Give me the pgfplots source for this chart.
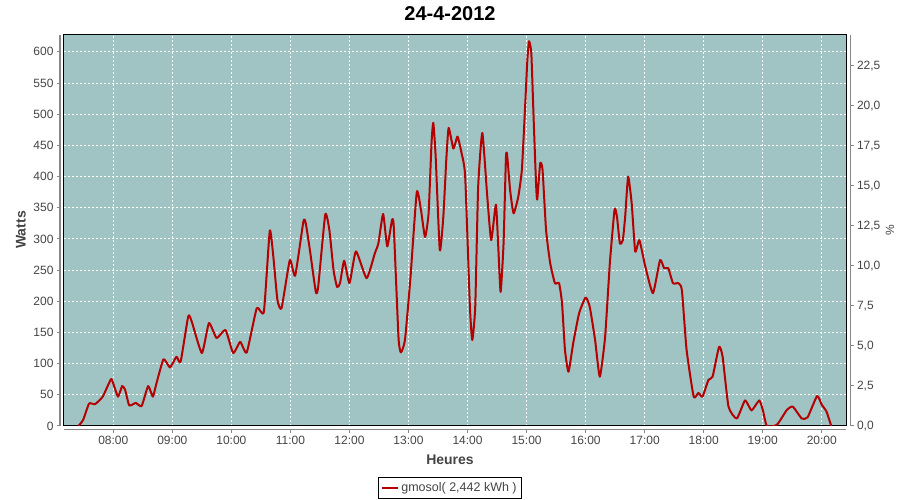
\documentclass[border=0pt]{standalone}
\usepackage{fontspec}
\setmainfont{Liberation Sans}
\usepackage{pgfplots}
\pgfplotsset{compat=1.18}
\definecolor{bg}{RGB}{159,196,195}
\definecolor{ln}{RGB}{180,0,0}
\definecolor{tk}{RGB}{68,68,68}
\definecolor{ax}{RGB}{136,136,136}
\begin{document}
\begin{tikzpicture}
\path[use as bounding box] (0pt,0pt) rectangle (900pt,500pt);
\pgfplotsset{every axis/.append style={scale only axis, font=\fontsize{12}{14}\selectfont, /pgf/number format/assume math mode=true, ticklabel style={text=tk}}}
% main plot area
\begin{axis}[at={(64pt,74pt)}, anchor=south west, width=782pt, height=391pt,
  xmin=7.165, xmax=20.41, ymin=0, ymax=627,
  axis background/.style={fill=bg},
  xtick={8,9,...,20}, ytick={0,50,...,600},
  xticklabels={}, yticklabels={},
  major tick length=0pt,
  grid=major, grid style={white, dash pattern=on 2pt off 2pt, line width=0.9pt},
  axis line style={black, line width=1pt},
  legend style={at={(0.4936,-0.1586)}, anchor=center, draw=black, line width=0.9pt, text=tk, inner xsep=3pt, inner ysep=3pt,
    font=\fontsize{12.5}{14}\selectfont, legend cell align=left},
  legend image code/.code={\draw[#1] (0pt,0pt) -- (16pt,0pt);},
]
\addplot[ln, line width=2pt, line join=round, smooth, tension=0.3] coordinates {
(7.41,0) (7.49,10) (7.59,36) (7.69,35) (7.82,47) (7.96,75) (8.00,68) (8.08,47)
(8.15,64) (8.20,58) (8.27,33) (8.38,37) (8.48,32) (8.59,64) (8.67,47) (8.73,68)
(8.85,107) (8.96,94) (9.07,111) (9.14,103) (9.27,176) (9.33,167) (9.50,117) (9.62,165)
(9.75,141) (9.90,154) (10.03,117) (10.15,135) (10.26,118) (10.43,189) (10.55,183) (10.65,313)
(10.71,272) (10.78,202) (10.85,189) (10.99,266) (11.08,241) (11.22,328) (11.26,325) (11.33,282)
(11.43,215) (11.47,223) (11.59,339) (11.66,314) (11.73,250) (11.79,223) (11.84,229) (11.91,265)
(12.00,229) (12.11,280) (12.29,237) (12.43,277) (12.49,293) (12.57,340) (12.64,288) (12.72,330)
(12.75,320) (12.83,143) (12.87,118) (12.94,138) (13.03,234) (13.14,375) (13.21,347) (13.28,303)
(13.34,341) (13.39,454) (13.42,486) (13.46,432) (13.53,282) (13.59,336) (13.64,427) (13.68,478)
(13.76,445) (13.83,464) (13.90,437) (13.96,400) (14.04,191) (14.08,138) (14.13,191) (14.18,384)
(14.25,470) (14.33,373) (14.40,298) (14.48,355) (14.52,288) (14.56,215) (14.61,293) (14.65,430)
(14.67,435) (14.72,379) (14.78,341) (14.86,368) (14.92,411) (14.97,502) (15.01,582) (15.04,617)
(15.08,598) (15.12,491) (15.16,389) (15.18,363) (15.23,421) (15.27,411) (15.33,314) (15.40,261)
(15.48,229) (15.55,229) (15.60,197) (15.65,122) (15.71,87) (15.79,133) (15.89,181) (16.00,206)
(16.07,191) (16.16,138) (16.24,79) (16.33,143) (16.41,261) (16.49,347) (16.53,336) (16.58,293)
(16.63,298) (16.67,336) (16.72,400) (16.78,357) (16.84,280) (16.91,298) (17.01,256) (17.14,213)
(17.26,266) (17.33,253) (17.40,253) (17.48,229) (17.57,229) (17.63,218) (17.71,122) (17.83,47)
(17.91,53) (17.98,47) (18.08,74) (18.15,79) (18.26,127) (18.32,111) (18.42,31) (18.56,12)
(18.70,41) (18.81,25) (18.94,41) (19.00,26) (19.07,0) (19.24,2) (19.41,26) (19.51,31)
(19.66,12) (19.76,14) (19.92,48) (20.00,34) (20.08,23) (20.16,0)
};
\addlegendentry{gmosol( 2,442 kWh )}
\end{axis}
% left axis
\begin{axis}[at={(60pt,74pt)}, anchor=south west, width=786pt, height=391pt,
  xmin=0, xmax=1, ymin=0, ymax=627,
  axis y line*=left, axis x line=none,
  ytick={0,50,...,600},
  y axis line style={ax, line width=1pt, -},
  ytick style={ax, line width=1pt},
  tick align=outside, major tick length=3pt,
]
\end{axis}
% bottom axis
\begin{axis}[at={(64pt,70pt)}, anchor=south west, width=782pt, height=395pt,
  xmin=7.165, xmax=20.41, ymin=0, ymax=1,
  axis x line*=bottom, axis y line=none,
  xtick={8,9,...,20},
  xticklabels={08:00,09:00,10:00,11:00,12:00,13:00,14:00,15:00,16:00,17:00,18:00,19:00,20:00},
  x axis line style={ax, line width=1pt, -},
  xtick style={ax, line width=1pt},
  tick align=outside, major tick length=3pt,
]
\end{axis}
% right axis
\begin{axis}[at={(850.5pt,74pt)}, anchor=south east, width=786.5pt, height=391pt,
  xmin=0, xmax=1, ymin=0, ymax=24.42,
  axis y line*=right, axis x line=none,
  ytick={0,2.5,...,22.5},
  yticklabel style={/pgf/number format/.cd, fixed, fixed zerofill, precision=1, use comma},
  y axis line style={ax, line width=1pt, -},
  ytick style={ax, line width=1pt},
  tick align=outside, major tick length=3pt,
]
\end{axis}
\node[font=\bfseries\fontsize{20}{24}\selectfont] at (450pt,486pt) {24-4-2012};
\node[font=\bfseries\fontsize{14}{16}\selectfont, text=tk] at (450pt,40pt) {Heures};
\node[font=\bfseries\fontsize{14}{16}\selectfont, text=tk, rotate=90] at (21pt,270pt) {Watts};
\node[font=\fontsize{12}{14}\selectfont, text=tk, rotate=90] at (890pt,270pt) {\%};
\end{tikzpicture}
\end{document}
